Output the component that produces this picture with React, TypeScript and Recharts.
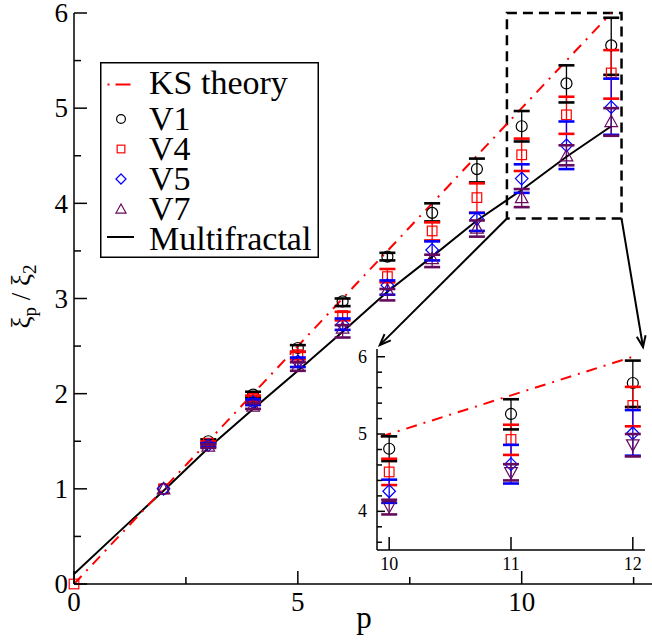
import React from 'react';
import {
  ComposedChart,
  Scatter,
  Line,
  XAxis,
  YAxis,
  ErrorBar,
  ReferenceArea,
  ReferenceLine,
  Legend,
} from 'recharts';

const FONT = 'Liberation Serif, Tinos, Times New Roman, DejaVu Serif, serif';

// ---------------- data ----------------
const P = [2, 3, 4, 5, 6, 7, 8, 9, 10, 11, 12];

const V1 = [1.0, 1.5, 1.99, 2.48, 2.97, 3.44, 3.9, 4.36, 4.81, 5.26, 5.66];
const V1_LO = [1.0, 1.48, 1.96, 2.44, 2.92, 3.4, 3.81, 4.22, 4.65, 5.06, 5.35];
const V1_HI = [1.0, 1.52, 2.02, 2.51, 3.0, 3.48, 4.0, 4.47, 4.97, 5.45, 5.95];

const P_V4 = [0, 2, 3, 4, 5, 6, 7, 8, 9, 10, 11, 12];
const V4 = [0, 1.0, 1.48, 1.95, 2.41, 2.82, 3.23, 3.71, 4.06, 4.51, 4.93, 5.37];
const V4_LO = [0, 1.0, 1.46, 1.92, 2.36, 2.77, 3.17, 3.61, 3.9, 4.34, 4.73, 5.1];
const V4_HI = [0, 1.0, 1.5, 1.98, 2.44, 2.86, 3.31, 3.8, 4.21, 4.68, 5.12, 5.61];

const V5 = [1.0, 1.46, 1.91, 2.34, 2.73, 3.14, 3.51, 3.84, 4.26, 4.61, 5.01];
const V5_LO = [1.0, 1.44, 1.88, 2.28, 2.67, 3.04, 3.4, 3.71, 4.11, 4.36, 4.72];
const V5_HI = [1.0, 1.48, 1.94, 2.38, 2.79, 3.19, 3.6, 3.9, 4.41, 4.86, 5.31];

const V7 = [1.0, 1.45, 1.87, 2.29, 2.69, 3.09, 3.42, 3.74, 4.06, 4.5, 4.86];
const V7_LO = [1.0, 1.43, 1.84, 2.24, 2.59, 2.98, 3.33, 3.65, 3.96, 4.4, 4.71];
const V7_HI = [1.0, 1.47, 1.9, 2.33, 2.72, 3.1, 3.46, 3.82, 4.15, 4.61, 5.0];

const KS_P = [0, 1, 2, 3, 4, 5, 6, 7, 8, 9, 10, 11, 12];
const KS = [0, 0.5, 1, 1.5, 2, 2.5, 3, 3.5, 4, 4.5, 5, 5.5, 6];

const MF_P = [0, 1, 2, 3, 4, 5, 6, 7, 8, 9, 10, 11, 12];
const MF = [0.105, 0.545, 0.98, 1.43, 1.84, 2.24, 2.65, 3.07, 3.44, 3.82, 4.14, 4.49, 4.81];

const MAIN_X_TICKS = [0, 2.5, 5, 7.5, 10, 12.5];
const MAIN_Y_TICKS = [0, 0.5, 1, 1.5, 2, 2.5, 3, 3.5, 4, 4.5, 5, 5.5, 6];
const INSET_X_TICKS = [10, 11, 12];
const INSET_Y_TICKS = [3.6, 3.8, 4, 4.2, 4.4, 4.6, 4.8, 5, 5.2, 5.4, 5.6, 5.8, 6];

const LEGEND_LABELS = ['KS theory', 'V1', 'V4', 'V5', 'V7', 'Multifractal'];

// zoom box (data coords) and arrow tips (data coords)
const ZOOM_BOX = { x1: 9.67, x2: 12.23, y1: 3.84, y2: 6 };
const ARROW_TIPS = [
  { x: 6.83, y: 2.51 },
  { x: 12.71, y: 2.49 },
];

const C_BLACK = '#000000';
const C_RED = '#ff0000';
const C_BLUE = '#0000ff';
const C_MAROON = '#660a5e';

// ---------------- helpers ----------------
const series = (ps: number[], v: number[], lo: number[], hi: number[]) =>
  ps.map((p, i) => ({ p, v: v[i], err: [v[i] - lo[i], hi[i] - v[i]] }));
const capsOf = (ps: number[], lo: number[], hi: number[]) =>
  ps.flatMap((p, i) => (hi[i] - lo[i] > 0 ? [{ p, v: lo[i] }, { p, v: hi[i] }] : []));
const lineOf = (ps: number[], v: number[]) => ps.map((p, i) => ({ p, v: v[i] }));

const d1 = series(P, V1, V1_LO, V1_HI);
const d4 = series(P_V4, V4, V4_LO, V4_HI);
const d5 = series(P, V5, V5_LO, V5_HI);
const d7 = series(P, V7, V7_LO, V7_HI);
const c1 = capsOf(P, V1_LO, V1_HI);
const c4 = capsOf(P_V4, V4_LO, V4_HI);
const c5 = capsOf(P, V5_LO, V5_HI);
const c7 = capsOf(P, V7_LO, V7_HI);
const ksData = lineOf(KS_P, KS);
const mfData = lineOf(MF_P, MF);

const TXT = { fontFamily: FONT };

const Marker = ({ kind, cx, cy, color, k = 1 }: any) => {
  const sw = 1.2;
  if (cx == null || cy == null) return null;
  switch (kind) {
    case 'circle':
      return <circle cx={cx} cy={cy} r={5.5 * k} fill="none" stroke={color} strokeWidth={sw} />;
    case 'square': {
      const h = 4.8 * k;
      return <rect x={cx - h} y={cy - h} width={2 * h} height={2 * h} fill="none" stroke={color} strokeWidth={sw} />;
    }
    case 'diamond': {
      const h = 6.3 * k;
      return (
        <polygon
          points={`${cx},${cy - h} ${cx + h},${cy} ${cx},${cy + h} ${cx - h},${cy}`}
          fill="none"
          stroke={color}
          strokeWidth={sw}
        />
      );
    }
    case 'up': {
      const h = 6.3 * k;
      return (
        <polygon
          points={`${cx},${cy - h} ${cx + h},${cy + h * 0.8} ${cx - h},${cy + h * 0.8}`}
          fill="none"
          stroke={color}
          strokeWidth={sw}
        />
      );
    }
    case 'down': {
      const h = 6.3 * k;
      return (
        <polygon
          points={`${cx},${cy + h} ${cx + h},${cy - h * 0.8} ${cx - h},${cy - h * 0.8}`}
          fill="none"
          stroke={color}
          strokeWidth={sw}
        />
      );
    }
    default:
      return null;
  }
};

const markerShape = (kind: string, color: string) => (props: any) => (
  <Marker kind={kind} cx={props.cx} cy={props.cy} color={color} />
);
const capShape = (color: string) => (props: any) =>
  props.cx == null ? null : (
    <line x1={props.cx - 8} x2={props.cx + 8} y1={props.cy} y2={props.cy} stroke={color} strokeWidth={2.6} />
  );

const isInt = (v: number) => Math.abs(v - Math.round(v)) < 1e-6;

// tick renderers: ticks drawn inward, labels outside
const makeTick = (side: string, isMajor: (v: number) => boolean, opts: any) => (props: any) => {
  const { x, y, payload } = props;
  const v = payload.value;
  const major = isMajor(v);
  const len = major ? opts.major : opts.minor;
  let line;
  let label = null;
  if (side === 'bottom') {
    line = <line x1={x} x2={x} y1={y} y2={y - len} stroke="#000" strokeWidth={1.5} />;
    if (major && opts.label)
      label = (
        <text x={x} y={y + opts.labelOffset} textAnchor="middle" fontSize={opts.fontSize} style={TXT} fill="#000">
          {v}
        </text>
      );
  } else if (side === 'top') {
    line = <line x1={x} x2={x} y1={y} y2={y + len} stroke="#000" strokeWidth={1.5} />;
  } else if (side === 'left') {
    line = <line x1={x} x2={x + len} y1={y} y2={y} stroke="#000" strokeWidth={1.5} />;
    if (major && opts.label)
      label = (
        <text
          x={x - opts.labelOffset}
          y={y}
          dy="0.34em"
          textAnchor="end"
          fontSize={opts.fontSize}
          style={TXT}
          fill="#000"
        >
          {Math.round(v)}
        </text>
      );
  } else {
    line = <line x1={x} x2={x - len} y1={y} y2={y} stroke="#000" strokeWidth={1.5} />;
  }
  return (
    <g>
      {line}
      {label}
    </g>
  );
};

const AX = { stroke: '#000', strokeWidth: 1.5 };

const Arrow = (props: any) => {
  const { x1, y1, x2, y2 } = props;
  if ([x1, y1, x2, y2].some((t) => t == null || isNaN(t))) return null;
  const a = Math.atan2(y2 - y1, x2 - x1);
  const L = 12;
  const w = 0.38;
  const p1 = `${x2 - L * Math.cos(a - w)},${y2 - L * Math.sin(a - w)}`;
  const p2 = `${x2 - L * Math.cos(a + w)},${y2 - L * Math.sin(a + w)}`;
  return (
    <g>
      <line x1={x1} y1={y1} x2={x2} y2={y2} stroke="#000" strokeWidth={2} />
      <polyline points={`${p1} ${x2},${y2} ${p2}`} fill="none" stroke="#000" strokeWidth={2} />
    </g>
  );
};

const LegendBox = () => {
  const tx = 49;
  const baselines = [31.5, 68, 98, 128, 158, 188];
  const midY = [22.5, 57, 87, 117, 147, 175];
  const kinds = ['ks', 'circle', 'square', 'diamond', 'up', 'mf'];
  const colors = [C_RED, C_BLACK, C_RED, C_BLUE, C_MAROON, C_BLACK];
  return (
    <svg width={219} height={196} style={{ display: 'block' }}>
      <rect x={0.75} y={0.75} width={217.5} height={194.5} fill="#fff" stroke="#000" strokeWidth={1.5} />
      {LEGEND_LABELS.map((lab, i) => {
        const kind = kinds[i];
        const c = colors[i];
        let sym;
        if (kind === 'ks') {
          sym = (
            <g>
              <line x1={7.5} x2={9.5} y1={midY[i]} y2={midY[i]} stroke={c} strokeWidth={2} />
              <line x1={15.5} x2={30.5} y1={midY[i]} y2={midY[i]} stroke={c} strokeWidth={2} />
            </g>
          );
        } else if (kind === 'mf') {
          sym = <line x1={7} x2={34} y1={midY[i]} y2={midY[i]} stroke={c} strokeWidth={2} />;
        } else {
          sym = <Marker kind={kind} cx={21} cy={midY[i]} color={c} k={0.8} />;
        }
        return (
          <g key={lab}>
            {sym}
            <text x={tx} y={baselines[i]} fontSize={34} style={TXT} fill="#000">
              {lab}
            </text>
          </g>
        );
      })}
    </svg>
  );
};

const YTitle = (props: any) => {
  const vb = props.viewBox || { x: 14, y: 13, width: 60, height: 571 };
  const cx = vb.x + 8;
  const cy = vb.y + vb.height / 2 - 2;
  return (
    <text
      x={cx}
      y={cy}
      transform={`rotate(-90, ${cx}, ${cy})`}
      textAnchor="middle"
      dy="0.3em"
      fontSize={27}
      style={TXT}
      fill="#000"
    >
      ξ<tspan fontSize={19} dy={6}>p</tspan>
      <tspan dy={-6}> / ξ</tspan>
      <tspan fontSize={19} dy={6}>2</tspan>
    </text>
  );
};

const XTitle = (props: any) => {
  const vb = props.viewBox || { x: 74, y: 584, width: 582, height: 50 };
  return (
    <text x={vb.x + vb.width / 2 - 1} y={vb.y + 44} textAnchor="middle" fontSize={31} style={TXT} fill="#000">
      p
    </text>
  );
};

const seriesList = [
  { d: d1, c: c1, color: C_BLACK, kind: 'circle', name: 'V1' },
  { d: d4, c: c4, color: C_RED, kind: 'square', name: 'V4' },
  { d: d5, c: c5, color: C_BLUE, kind: 'diamond', name: 'V5' },
  { d: d7, c: c7, color: C_MAROON, kind: 'up', name: 'V7' },
];

const renderSeries = (xId: string, yId: string, insetMode: boolean) =>
  seriesList.flatMap((s) => [
    <Scatter
      key={s.name + 'pts' + xId}
      name={s.name}
      xAxisId={xId}
      yAxisId={yId}
      data={s.d}
      dataKey="v"
      shape={markerShape(insetMode && s.kind === 'up' ? 'down' : s.kind, s.color)}
      isAnimationActive={false}
      legendType="none"
    >
      <ErrorBar dataKey="err" direction="y" width={0} stroke={s.color} strokeWidth={1.3} isAnimationActive={false} />
    </Scatter>,
    <Scatter
      key={s.name + 'caps' + xId}
      xAxisId={xId}
      yAxisId={yId}
      data={s.c}
      dataKey="v"
      shape={capShape(s.color)}
      isAnimationActive={false}
      legendType="none"
    />,
  ]);

export default function App() {
  return (
    <div
      style={{
        position: 'absolute',
        left: 0,
        top: 0,
        width: 652,
        height: 640,
        overflow: 'hidden',
        background: '#fff',
        fontFamily: FONT,
      }}
    >
      <ComposedChart width={680} height={640} margin={{ top: 13, right: 24, left: 14, bottom: 6 }}>
        <XAxis
          xAxisId="b"
          dataKey="p"
          type="number"
          domain={[0, 13]}
          ticks={MAIN_X_TICKS}
          interval={0}
          tickSize={0}
          tickMargin={0}
          tickLine={false}
          axisLine={AX}
          height={50}
          tick={makeTick('bottom', (v) => v % 5 === 0, { major: 13, minor: 7, label: true, labelOffset: 27, fontSize: 27 })}
          label={{ content: (p: any) => <XTitle {...p} /> }}
        />
        <XAxis
          xAxisId="t"
          orientation="top"
          type="number"
          domain={[0, 13]}
          ticks={MAIN_X_TICKS}
          interval={0}
          tickSize={0}
          tickMargin={0}
          tickLine={false}
          axisLine={AX}
          height={0}
          tick={makeTick('top', (v) => v % 5 === 0, { major: 13, minor: 7 })}
        />
        <YAxis
          yAxisId="l"
          type="number"
          domain={[0, 6]}
          ticks={MAIN_Y_TICKS}
          interval={0}
          tickSize={0}
          tickMargin={0}
          tickLine={false}
          axisLine={AX}
          width={60}
          tick={makeTick('left', isInt, { major: 13, minor: 7, label: true, labelOffset: 6, fontSize: 27 })}
          label={{ content: (p: any) => <YTitle {...p} /> }}
        />
        <YAxis
          yAxisId="r"
          orientation="right"
          type="number"
          domain={[0, 6]}
          ticks={MAIN_Y_TICKS}
          interval={0}
          tickSize={0}
          tickMargin={0}
          tickLine={false}
          axisLine={AX}
          width={0}
          tick={makeTick('right', isInt, { major: 13, minor: 7 })}
        />
        <Legend
          layout="vertical"
          align="center"
          verticalAlign="middle"
          content={() => <LegendBox />}
          wrapperStyle={{ left: 100, top: 62, width: 219, height: 196, margin: 0, padding: 0 }}
        />
        <ReferenceArea
          xAxisId="b"
          yAxisId="l"
          x1={ZOOM_BOX.x1}
          x2={ZOOM_BOX.x2}
          y1={ZOOM_BOX.y1}
          y2={ZOOM_BOX.y2}
          fill="none"
          fillOpacity={0}
          stroke="#000"
          strokeWidth={2.5}
          strokeDasharray="10 6"
          ifOverflow="visible"
        />
        <ReferenceLine
          xAxisId="b"
          yAxisId="l"
          segment={[{ x: ZOOM_BOX.x1, y: ZOOM_BOX.y1 }, ARROW_TIPS[0]]}
          shape={Arrow}
          ifOverflow="visible"
        />
        <ReferenceLine
          xAxisId="b"
          yAxisId="l"
          segment={[{ x: ZOOM_BOX.x2, y: ZOOM_BOX.y1 }, ARROW_TIPS[1]]}
          shape={Arrow}
          ifOverflow="visible"
        />
        {renderSeries('b', 'l', false)}
        <Line
          xAxisId="b"
          yAxisId="l"
          data={mfData}
          dataKey="v"
          type="linear"
          dot={false}
          stroke={C_BLACK}
          strokeWidth={2}
          isAnimationActive={false}
          legendType="none"
        />
        <Line
          xAxisId="b"
          yAxisId="l"
          data={ksData}
          dataKey="v"
          type="linear"
          dot={false}
          stroke={C_RED}
          strokeWidth={2}
          strokeDasharray="11 7 2 7"
          isAnimationActive={false}
          legendType="none"
        />
      </ComposedChart>

      <div style={{ position: 'absolute', left: 330, top: 330 }}>
        <ComposedChart width={322} height={310} margin={{ top: 19, right: 7, left: 0, bottom: 60 }}>
          <XAxis
            xAxisId="b"
            dataKey="p"
            type="number"
            domain={[9.9, 12.1]}
            allowDataOverflow
            ticks={INSET_X_TICKS}
            interval={0}
            tickSize={0}
            tickMargin={0}
            tickLine={false}
            axisLine={AX}
            height={30}
            tick={makeTick('bottom', isInt, { major: 13, minor: 13, label: true, labelOffset: 20, fontSize: 18 })}
          />
          <XAxis
            xAxisId="t"
            orientation="top"
            type="number"
            domain={[9.9, 12.1]}
            ticks={INSET_X_TICKS}
            interval={0}
            tickSize={0}
            tickMargin={0}
            tickLine={false}
            axisLine={AX}
            height={0}
            tick={makeTick('top', isInt, { major: 13, minor: 13 })}
          />
          <YAxis
            yAxisId="l"
            type="number"
            domain={[3.5, 6.1]}
            allowDataOverflow
            ticks={INSET_Y_TICKS}
            interval={0}
            tickSize={0}
            tickMargin={0}
            tickLine={false}
            axisLine={AX}
            width={47}
            tick={makeTick('left', isInt, { major: 8, minor: 5, label: true, labelOffset: 10, fontSize: 18 })}
          />
          <YAxis
            yAxisId="r"
            orientation="right"
            type="number"
            domain={[3.5, 6.1]}
            ticks={INSET_Y_TICKS}
            interval={0}
            tickSize={0}
            tickMargin={0}
            tickLine={false}
            axisLine={AX}
            width={0}
            tick={makeTick('right', isInt, { major: 8, minor: 5 })}
          />
          {renderSeries('b', 'l', true)}
          <Line
            xAxisId="b"
            yAxisId="l"
            data={ksData}
            dataKey="v"
            type="linear"
            dot={false}
            stroke={C_RED}
            strokeWidth={2}
            strokeDasharray="11 7 2 7"
            isAnimationActive={false}
            legendType="none"
          />
        </ComposedChart>
      </div>
    </div>
  );
}
